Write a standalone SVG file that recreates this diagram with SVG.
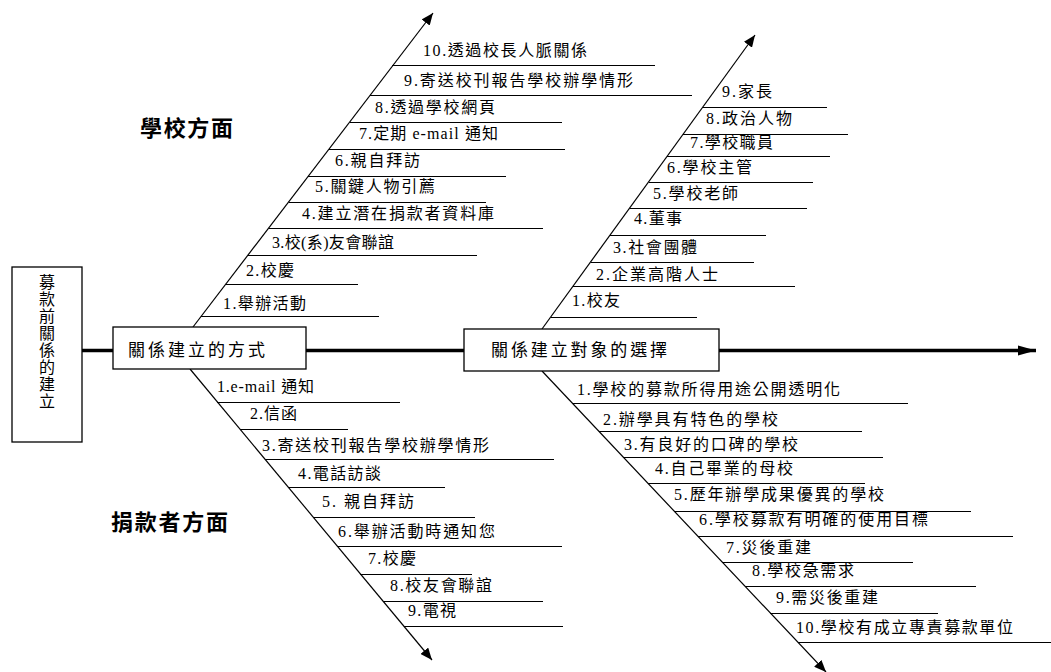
<svg xmlns="http://www.w3.org/2000/svg" width="1051" height="672" viewBox="0 0 1051 672">
<style>
  .bg{fill:#fff}
  .box{fill:#fff;stroke:#000;stroke-width:1.3}
  .t{font-family:"Liberation Serif","Noto Sans CJK TC",serif;font-size:16px;fill:#000}
  .vt{font-family:"Noto Sans CJK TC",sans-serif;font-size:16px;fill:#000;writing-mode:vertical-rl;letter-spacing:1px}
  .bt{font-family:"Liberation Serif","Noto Sans CJK TC",serif;font-size:17px;fill:#000}
  .h{font-family:"Liberation Serif","Noto Sans CJK TC",serif;font-size:22px;font-weight:bold;fill:#000}
  .rib{stroke:#000;stroke-width:1;fill:none}
  .bone{stroke:#000;stroke-width:1.2;fill:none}
  .spine{stroke:#000;stroke-width:3.5;fill:none}
</style>
<defs>
  <marker id="ah" markerUnits="userSpaceOnUse" markerWidth="14" markerHeight="10" refX="12" refY="5" orient="auto">
    <path d="M0,0 L12,5 L0,10 z" fill="#000"/>
  </marker>
  <marker id="sh" markerUnits="userSpaceOnUse" markerWidth="20" markerHeight="12" refX="18" refY="6" orient="auto">
    <path d="M0,1 L18,6 L0,11 z" fill="#000"/>
  </marker>
</defs>
<rect class="bg" x="0" y="0" width="1051" height="672"/>

<g id="connectors">
  <line class="spine" x1="82" y1="350.5" x2="113" y2="350.5"/>
  <line class="spine" x1="306" y1="350.5" x2="464" y2="350.5"/>
  <line class="spine" x1="719" y1="350.5" x2="1036" y2="350.5" marker-end="url(#sh)"/>
  <line class="bone" x1="193" y1="327" x2="433" y2="13" marker-end="url(#ah)"/>
  <line class="bone" x1="190" y1="369" x2="432" y2="660" marker-end="url(#ah)"/>
  <line class="bone" x1="542" y1="329" x2="755" y2="35" marker-end="url(#ah)"/>
  <line class="bone" x1="542" y1="371" x2="826" y2="672" marker-end="url(#ah)"/>
</g>

<g id="root">
  <rect class="box" x="12" y="267" width="70" height="175"/>
  <text class="vt" x="47" y="274">募款前關係的建立</text>
</g>

<g id="method">
  <rect class="box" x="113" y="327" width="193" height="42"/>
  <text class="bt" x="128" y="356" textLength="137" lengthAdjust="spacing">關係建立的方式</text>
</g>

<g id="target">
  <rect class="box" x="464" y="329" width="255" height="42"/>
  <text class="bt" x="491" y="356" textLength="176" lengthAdjust="spacing">關係建立對象的選擇</text>
</g>

<g id="label-school">
  <text class="h" x="140" y="136" textLength="93" lengthAdjust="spacing">學校方面</text>
</g>
<g id="label-donor">
  <text class="h" x="111" y="530" textLength="117" lengthAdjust="spacing">捐款者方面</text>
</g>

<g id="school-items">
  <g id="s10"><text class="t" x="423" y="56" textLength="164" lengthAdjust="spacing">10.透過校長人脈關係</text><line class="rib" x1="392" y1="65.5" x2="655" y2="65.5"/></g>
  <g id="s9"><text class="t" x="404" y="86" textLength="229" lengthAdjust="spacing">9.寄送校刊報告學校辦學情形</text><line class="rib" x1="370" y1="95.5" x2="692" y2="95.5"/></g>
  <g id="s8"><text class="t" x="375" y="113" textLength="120" lengthAdjust="spacing">8.透過學校網頁</text><line class="rib" x1="350" y1="122.5" x2="562" y2="122.5"/></g>
  <g id="s7"><text class="t" x="359" y="139" textLength="139" lengthAdjust="spacing">7.定期 e-mail 通知</text><line class="rib" x1="329" y1="149.5" x2="565" y2="149.5"/></g>
  <g id="s6"><text class="t" x="335" y="166" textLength="85" lengthAdjust="spacing">6.親自拜訪</text><line class="rib" x1="308" y1="176.5" x2="506" y2="176.5"/></g>
  <g id="s5"><text class="t" x="315" y="192" textLength="120" lengthAdjust="spacing">5.關鍵人物引薦</text><line class="rib" x1="289" y1="202.5" x2="486" y2="202.5"/></g>
  <g id="s4"><text class="t" x="302" y="219" textLength="192" lengthAdjust="spacing">4.建立潛在捐款者資料庫</text><line class="rib" x1="269" y1="228.5" x2="543" y2="228.5"/></g>
  <g id="s3"><text class="t" x="272" y="248" textLength="122" lengthAdjust="spacing">3.校(系)友會聯誼</text><line class="rib" x1="248" y1="255.5" x2="477" y2="255.5"/></g>
  <g id="s2"><text class="t" x="246" y="276" textLength="48" lengthAdjust="spacing">2.校慶</text><line class="rib" x1="226" y1="284.5" x2="358" y2="284.5"/></g>
  <g id="s1"><text class="t" x="223" y="309" textLength="83" lengthAdjust="spacing">1.舉辦活動</text><line class="rib" x1="201" y1="316.5" x2="379" y2="316.5"/></g>
</g>

<g id="donor-method-items">
  <g id="d1"><text class="t" x="217" y="392" textLength="97" lengthAdjust="spacing">1.e-mail 通知</text><line class="rib" x1="217" y1="402.5" x2="400" y2="402.5"/></g>
  <g id="d2"><text class="t" x="250" y="419" textLength="47" lengthAdjust="spacing">2.信函</text><line class="rib" x1="240" y1="429.5" x2="348" y2="429.5"/></g>
  <g id="d3"><text class="t" x="262" y="451" textLength="227" lengthAdjust="spacing">3.寄送校刊報告學校辦學情形</text><line class="rib" x1="265" y1="459.5" x2="554" y2="459.5"/></g>
  <g id="d4"><text class="t" x="298" y="479" textLength="83" lengthAdjust="spacing">4.電話訪談</text><line class="rib" x1="288" y1="487.5" x2="445" y2="487.5"/></g>
  <g id="d5"><text class="t" x="322" y="507" textLength="92" lengthAdjust="spacing">5. 親自拜訪</text><line class="rib" x1="313" y1="517.5" x2="475" y2="517.5"/></g>
  <g id="d6"><text class="t" x="338" y="537" textLength="157" lengthAdjust="spacing">6.舉辦活動時通知您</text><line class="rib" x1="337" y1="546.5" x2="562" y2="546.5"/></g>
  <g id="d7"><text class="t" x="368" y="564" textLength="48" lengthAdjust="spacing">7.校慶</text><line class="rib" x1="360" y1="574.5" x2="472" y2="574.5"/></g>
  <g id="d8"><text class="t" x="390" y="591" textLength="102" lengthAdjust="spacing">8.校友會聯誼</text><line class="rib" x1="383" y1="601.5" x2="543" y2="601.5"/></g>
  <g id="d9"><text class="t" x="408" y="616" textLength="48" lengthAdjust="spacing">9.電視</text><line class="rib" x1="404" y1="626.5" x2="563" y2="626.5"/></g>
</g>

<g id="target-items">
  <g id="t9"><text class="t" x="722" y="97" textLength="50" lengthAdjust="spacing">9.家長</text><line class="rib" x1="703" y1="107.5" x2="827" y2="107.5"/></g>
  <g id="t8"><text class="t" x="706" y="124" textLength="86" lengthAdjust="spacing">8.政治人物</text><line class="rib" x1="683" y1="134.5" x2="848" y2="134.5"/></g>
  <g id="t7"><text class="t" x="690" y="148" textLength="83" lengthAdjust="spacing">7.學校職員</text><line class="rib" x1="667" y1="156.5" x2="830" y2="156.5"/></g>
  <g id="t6"><text class="t" x="667" y="173" textLength="85" lengthAdjust="spacing">6.學校主管</text><line class="rib" x1="649" y1="182.5" x2="813" y2="182.5"/></g>
  <g id="t5"><text class="t" x="653" y="199" textLength="85" lengthAdjust="spacing">5.學校老師</text><line class="rib" x1="630" y1="208.5" x2="807" y2="208.5"/></g>
  <g id="t4"><text class="t" x="634" y="224" textLength="48" lengthAdjust="spacing">4.董事</text><line class="rib" x1="610" y1="235.5" x2="766" y2="235.5"/></g>
  <g id="t3"><text class="t" x="613" y="253" textLength="84" lengthAdjust="spacing">3.社會團體</text><line class="rib" x1="591" y1="262.5" x2="754" y2="262.5"/></g>
  <g id="t2"><text class="t" x="596" y="280" textLength="122" lengthAdjust="spacing">2.企業高階人士</text><line class="rib" x1="573" y1="286.5" x2="795" y2="286.5"/></g>
  <g id="t1"><text class="t" x="572" y="306" textLength="48" lengthAdjust="spacing">1.校友</text><line class="rib" x1="551" y1="317.5" x2="697" y2="317.5"/></g>
</g>

<g id="donor-choice-items">
  <g id="c1"><text class="t" x="577" y="395" textLength="263" lengthAdjust="spacing">1.學校的募款所得用途公開透明化</text><line class="rib" x1="572" y1="403.5" x2="908" y2="403.5"/></g>
  <g id="c2"><text class="t" x="603" y="425" textLength="175" lengthAdjust="spacing">2.辦學具有特色的學校</text><line class="rib" x1="599" y1="431.5" x2="862" y2="431.5"/></g>
  <g id="c3"><text class="t" x="624" y="450" textLength="174" lengthAdjust="spacing">3.有良好的口碑的學校</text><line class="rib" x1="623" y1="457.5" x2="883" y2="457.5"/></g>
  <g id="c4"><text class="t" x="655" y="474" textLength="138" lengthAdjust="spacing">4.自己畢業的母校</text><line class="rib" x1="648" y1="483.5" x2="865" y2="483.5"/></g>
  <g id="c5"><text class="t" x="674" y="500" textLength="210" lengthAdjust="spacing">5.歷年辦學成果優異的學校</text><line class="rib" x1="674" y1="511.5" x2="971" y2="511.5"/></g>
  <g id="c6"><text class="t" x="699" y="525" textLength="229" lengthAdjust="spacing">6.學校募款有明確的使用目標</text><line class="rib" x1="698" y1="536.5" x2="1013" y2="536.5"/></g>
  <g id="c7"><text class="t" x="726" y="553" textLength="85" lengthAdjust="spacing">7.災後重建</text><line class="rib" x1="722" y1="562.5" x2="913" y2="562.5"/></g>
  <g id="c8"><text class="t" x="752" y="576" textLength="102" lengthAdjust="spacing">8.學校急需求</text><line class="rib" x1="745" y1="586.5" x2="976" y2="586.5"/></g>
  <g id="c9"><text class="t" x="776" y="603" textLength="102" lengthAdjust="spacing">9.需災後重建</text><line class="rib" x1="770" y1="613.5" x2="938" y2="613.5"/></g>
  <g id="c10"><text class="t" x="796" y="633" textLength="217" lengthAdjust="spacing">10.學校有成立專責募款單位</text><line class="rib" x1="798" y1="642.5" x2="1051" y2="642.5"/></g>
</g>
</svg>
